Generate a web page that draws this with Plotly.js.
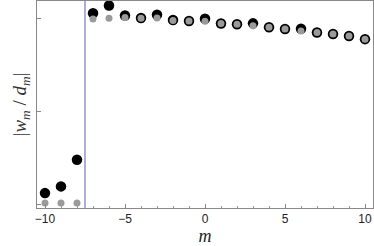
<!DOCTYPE html>
<html>
<head>
<meta charset="utf-8">
<script src="https://cdn.plot.ly/plotly-3.0.1.min.js"></script>
<style>html,body{margin:0;padding:0;background:#fff;}#chart{width:374px;height:246px;}</style>
</head>
<body>
<div id="chart"></div>
<script>
const mValues = [-10,-9,-8,-7,-6,-5,-4,-3,-2,-1,0,1,2,3,4,5,6,7,8,9,10];
const blackValues = [0.061,0.097,0.240,1.027,1.069,1.015,1.002,1.019,0.991,0.986,0.998,0.972,0.968,0.973,0.952,0.943,0.944,0.924,0.916,0.905,0.888];
const grayValues = [0.0075,0.0075,0.0075,0.996,1.000,1.005,1.000,1.002,0.988,0.986,0.984,0.972,0.968,0.960,0.952,0.943,0.932,0.924,0.916,0.905,0.888];
const cutoffM = -7.5;
const xTickVals = [-10,-5,0,5,10];
const xTickText = ['\u221210','\u22125','0','5','10'];
const yTickVals = [0, 0.5, 1];

const traces = [
  {x: mValues, y: blackValues, mode: 'markers', type: 'scatter',
   marker: {color: '#000', size: 10.5}, hoverinfo: 'skip', cliponaxis: false},
  {x: mValues, y: grayValues, mode: 'markers', type: 'scatter',
   marker: {color: '#9a9a9a', size: 7}, hoverinfo: 'skip', cliponaxis: false}
];

const layout = {
  width: 374, height: 246,
  margin: {l: 37, r: 1, t: 1, b: 38},
  paper_bgcolor: '#fff', plot_bgcolor: '#fff',
  showlegend: false,
  xaxis: {
    range: [-10.5, 10.5], showgrid: false, zeroline: false,
    showline: true, linecolor: '#888', linewidth: 1, mirror: true,
    ticks: 'inside', ticklen: 4, tickcolor: '#888',
    tickvals: xTickVals, ticktext: xTickText,
    minor: {dtick: 1, tick0: 0, ticks: 'inside', ticklen: 2, tickcolor: '#999', showgrid: false},
    tickfont: {family: 'Liberation Sans, Arial, sans-serif', size: 12, color: '#222'},
    title: {text: '<i>m</i>', font: {family: 'Liberation Serif, DejaVu Serif, serif', size: 18, color: '#222'}, standoff: 4}
  },
  yaxis: {
    range: [-0.019, 1.093], showgrid: false, zeroline: false,
    showline: true, linecolor: '#888', linewidth: 1, mirror: true,
    ticks: 'inside', ticklen: 4, tickcolor: '#888',
    tickvals: yTickVals, showticklabels: false,
    title: {text: '|<i>w</i><sub><i>m</i></sub> / <i>d</i><sub><i>m</i></sub>|', font: {family: 'Liberation Serif, DejaVu Serif, serif', size: 19, color: '#333'}, standoff: 4}
  },
  shapes: [
    {type: 'line', xref: 'x', yref: 'paper', x0: cutoffM, x1: cutoffM, y0: 0, y1: 1,
     line: {color: '#5c5cab', width: 1}}
  ]
};

Plotly.newPlot('chart', traces, layout, {staticPlot: true, displayModeBar: false});
</script>
</body>
</html>
